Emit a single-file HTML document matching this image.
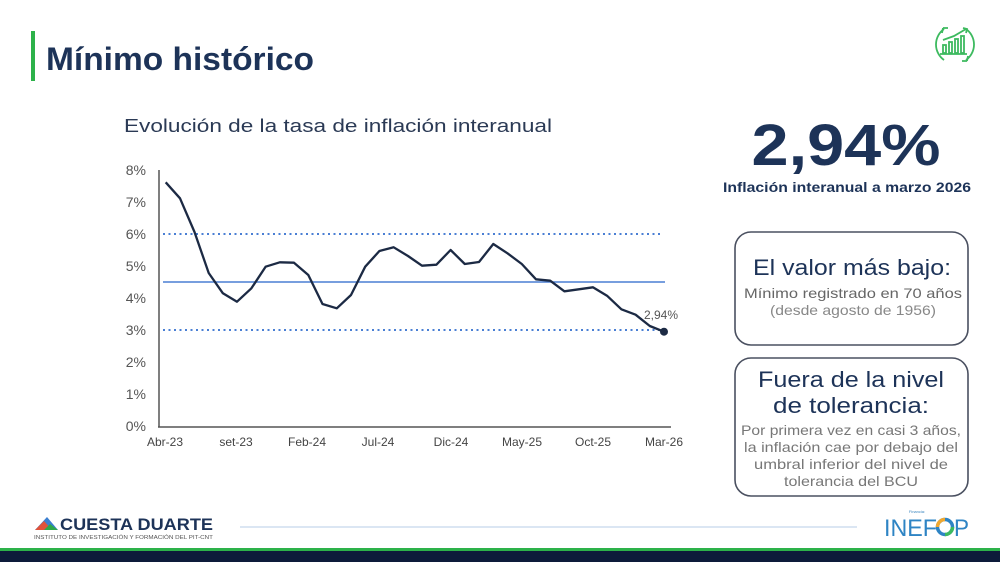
<!DOCTYPE html>
<html><head><meta charset="utf-8"><style>
html,body{margin:0;padding:0;background:#fff;}
svg{display:block;}
text{font-family:"Liberation Sans",sans-serif;}
</style></head><body>
<svg width="1000" height="562" viewBox="0 0 1000 562" xmlns="http://www.w3.org/2000/svg">
<rect width="1000" height="562" fill="#fff"/>
<!-- header -->
<rect x="31" y="31" width="4" height="50" fill="#2db24a"/>
<text x="46" y="70" font-size="32" font-weight="bold" fill="#1d3358" textLength="268" lengthAdjust="spacingAndGlyphs">Mínimo histórico</text>
<!-- icon top right -->
<g fill="none" stroke="#3dba5f" stroke-width="1.8">
<path d="M944 29 A19 19 0 0 0 944 60"/>
<path d="M966 60 A19 19 0 0 0 966 29"/>
<path d="M943 28 l-1 5 M943 28 l5 0"/>
<path d="M967 61 l1 -5 M967 61 l-5 0"/>
<path d="M943 40 L954 36 L966 29"/>
<path d="M963 28 l4 1 l-1 4"/>
<rect x="943" y="45" width="3" height="8"/>
<rect x="949" y="42" width="3" height="11"/>
<rect x="955" y="39" width="3" height="14"/>
<rect x="961" y="36" width="3" height="17"/>
<path d="M940 54 h27"/>
</g>
<!-- chart title -->
<text x="124" y="132" font-size="18" fill="#2b3a55" textLength="428" lengthAdjust="spacingAndGlyphs">Evolución de la tasa de inflación interanual</text>
<!-- y labels -->
<g font-size="14" fill="#555" text-anchor="end">
<text x="146" y="175">8%</text>
<text x="146" y="207">7%</text>
<text x="146" y="239">6%</text>
<text x="146" y="271">5%</text>
<text x="146" y="303">4%</text>
<text x="146" y="335">3%</text>
<text x="146" y="367">2%</text>
<text x="146" y="399">1%</text>
<text x="146" y="431">0%</text>
</g>
<!-- x labels -->
<g font-size="12" fill="#444" text-anchor="middle">
<text x="165" y="446">Abr-23</text>
<text x="236" y="446">set-23</text>
<text x="307" y="446">Feb-24</text>
<text x="378" y="446">Jul-24</text>
<text x="451" y="446">Dic-24</text>
<text x="522" y="446">May-25</text>
<text x="593" y="446">Oct-25</text>
<text x="664" y="446">Mar-26</text>
</g>
<!-- reference lines -->
<line x1="163" y1="234" x2="663" y2="234" stroke="#4a7fd4" stroke-width="2" stroke-dasharray="2 3.5"/>
<line x1="163" y1="330" x2="663" y2="330" stroke="#4a7fd4" stroke-width="2" stroke-dasharray="2 3.5"/>
<line x1="163" y1="282" x2="665" y2="282" stroke="#4a7fd4" stroke-width="1.6"/>
<!-- axes -->
<line x1="159" y1="170" x2="159" y2="427" stroke="#555" stroke-width="1.5"/>
<line x1="158" y1="427" x2="671" y2="427" stroke="#555" stroke-width="1.5"/>
<!-- series -->
<polyline fill="none" stroke="#1c2a44" stroke-width="2.3" stroke-linejoin="round" points="
165.7,182.3 180,198.3 194.5,232 208.7,273 222.9,293.3 237,301.7 251.4,288.3 265.6,266.7 279.8,262.3 294,262.7 308.3,275 322.5,304 336.8,308.3 351,295 365.2,266.7 379.4,251 393.7,247.3 408,256 422,265.7 436.4,264.7 450.6,250 464.8,264 479,262 493.3,244 507.5,253.3 521.8,264 536,279.3 550.2,280.7 564.4,291.3 578.7,289.3 592.9,287.3 607,295.7 621.4,309.3 635.6,314.7 649.8,326 664,331.7"/>
<circle cx="664" cy="331.7" r="4" fill="#1c2a44"/>
<text x="644" y="319" font-size="12" fill="#555">2,94%</text>
<!-- right panel -->
<text x="846" y="165" font-size="58" font-weight="bold" fill="#1d3358" text-anchor="middle" textLength="189" lengthAdjust="spacingAndGlyphs">2,94%</text>
<text x="847" y="192" font-size="14" font-weight="bold" fill="#1d3358" text-anchor="middle" textLength="248" lengthAdjust="spacingAndGlyphs">Inflación interanual a marzo 2026</text>
<rect x="735" y="232" width="233" height="113" rx="16" fill="none" stroke="#4a5060" stroke-width="1.6"/>
<text x="852" y="275" font-size="22" fill="#1d3358" text-anchor="middle" textLength="198" lengthAdjust="spacingAndGlyphs">El valor más bajo:</text>
<text x="853" y="298" font-size="14" fill="#666" text-anchor="middle" textLength="218" lengthAdjust="spacingAndGlyphs">Mínimo registrado en 70 años</text>
<text x="853" y="315" font-size="14" fill="#888" text-anchor="middle" textLength="166" lengthAdjust="spacingAndGlyphs">(desde agosto de 1956)</text>
<rect x="735" y="358" width="233" height="138" rx="16" fill="none" stroke="#4a5060" stroke-width="1.6"/>
<text x="851" y="387" font-size="22" fill="#1d3358" text-anchor="middle" textLength="186" lengthAdjust="spacingAndGlyphs">Fuera de la nivel</text>
<text x="851" y="413" font-size="22" fill="#1d3358" text-anchor="middle" textLength="156" lengthAdjust="spacingAndGlyphs">de tolerancia:</text>
<g font-size="14" fill="#777" text-anchor="middle">
<text x="851" y="435" textLength="220" lengthAdjust="spacingAndGlyphs">Por primera vez en casi 3 años,</text>
<text x="851" y="452" textLength="214" lengthAdjust="spacingAndGlyphs">la inflación cae por debajo del</text>
<text x="851" y="469" textLength="194" lengthAdjust="spacingAndGlyphs">umbral inferior del nivel de</text>
<text x="851" y="486" textLength="134" lengthAdjust="spacingAndGlyphs">tolerancia del BCU</text>
</g>
<!-- footer -->
<line x1="240" y1="527" x2="857" y2="527" stroke="#dbe6f3" stroke-width="2"/>
<polygon points="35,530 47,517 58,530" fill="#3b7fd0"/>
<polygon points="35,530 44,521 52,530" fill="#e0523a"/>
<polygon points="44,530 50,524 58,530" fill="#2da84a"/>
<text x="60" y="530" font-size="17" font-weight="bold" fill="#1d3358" textLength="153" lengthAdjust="spacingAndGlyphs">CUESTA DUARTE</text>
<text x="34" y="539" font-size="5" fill="#555" textLength="179" lengthAdjust="spacingAndGlyphs">INSTITUTO DE INVESTIGACIÓN Y FORMACIÓN DEL PIT-CNT</text>
<text x="917" y="513" font-size="4" fill="#3a86c0" text-anchor="middle">Financia:</text>
<text x="884" y="536" font-size="24" fill="#2e84c4" textLength="53" lengthAdjust="spacingAndGlyphs">INEF</text>
<text x="954" y="536" font-size="24" fill="#2e84c4" textLength="15" lengthAdjust="spacingAndGlyphs">P</text>
<circle cx="945" cy="527" r="7.5" fill="none" stroke="#2e84c4" stroke-width="3.5"/>
<path d="M937.5 527 A7.5 7.5 0 0 1 945 519.5" fill="none" stroke="#f0a830" stroke-width="3.5"/>
<path d="M945 534.5 A7.5 7.5 0 0 0 952.5 527" fill="none" stroke="#3dba5f" stroke-width="3.5"/>
<rect x="0" y="548" width="1000" height="3" fill="#2db24a"/>
<rect x="0" y="551" width="1000" height="11" fill="#0d1b3a"/>
</svg>
</body></html>
